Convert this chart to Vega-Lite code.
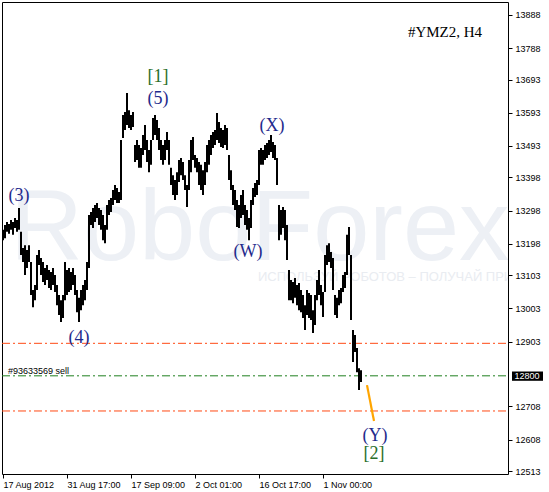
{
  "$schema": "https://vega.github.io/schema/vega-lite/v6.json",
  "width": 506,
  "height": 472,
  "autosize": "none",
  "padding": {"left": 2, "top": 2, "right": 41, "bottom": 18},
  "background": "white",
  "config": {
    "view": {"stroke": "black", "strokeWidth": 1},
    "font": "Liberation Sans"
  },
  "datasets": {
    "bars": [
      {"bar":1,"p":13209,"p2":13240},{"bar":3,"p":13215,"p2":13255},{"bar":5,"p":13234,"p2":13264},{"bar":7,"p":13228,"p2":13258},
      {"bar":9,"p":13240,"p2":13270},{"bar":11,"p":13225,"p2":13264},{"bar":13,"p":13246,"p2":13276},{"bar":15,"p":13234,"p2":13270},
      {"bar":17,"p":13240,"p2":13306},{"bar":19,"p":13164,"p2":13234},{"bar":21,"p":13143,"p2":13185},{"bar":23,"p":13104,"p2":13194},
      {"bar":25,"p":13125,"p2":13179},{"bar":27,"p":13143,"p2":13194},{"bar":29,"p":13044,"p2":13143},{"bar":31,"p":13007,"p2":13059},
      {"bar":33,"p":13028,"p2":13074},{"bar":35,"p":13059,"p2":13164},{"bar":37,"p":13134,"p2":13179},{"bar":39,"p":13104,"p2":13155},
      {"bar":41,"p":13083,"p2":13143},{"bar":43,"p":13074,"p2":13125},{"bar":45,"p":13089,"p2":13134},{"bar":47,"p":13065,"p2":13119},
      {"bar":49,"p":13059,"p2":13113},{"bar":51,"p":13074,"p2":13125},{"bar":53,"p":13053,"p2":13104},{"bar":55,"p":13013,"p2":13074},
      {"bar":57,"p":12983,"p2":13044},{"bar":59,"p":12962,"p2":13028},{"bar":61,"p":12974,"p2":13044},{"bar":63,"p":13028,"p2":13143},
      {"bar":65,"p":13044,"p2":13119},{"bar":67,"p":13053,"p2":13125},{"bar":69,"p":13059,"p2":13113},{"bar":71,"p":13074,"p2":13125},
      {"bar":73,"p":13044,"p2":13104},{"bar":75,"p":12992,"p2":13059},{"bar":77,"p":12962,"p2":13035},{"bar":79,"p":12998,"p2":13059},
      {"bar":81,"p":13013,"p2":13074},{"bar":83,"p":13028,"p2":13089},{"bar":85,"p":13059,"p2":13143},{"bar":87,"p":13125,"p2":13285},
      {"bar":89,"p":13255,"p2":13294},{"bar":91,"p":13246,"p2":13306},{"bar":93,"p":13264,"p2":13315},{"bar":95,"p":13276,"p2":13321},
      {"bar":97,"p":13255,"p2":13306},{"bar":99,"p":13240,"p2":13300},{"bar":101,"p":13209,"p2":13285},{"bar":103,"p":13200,"p2":13255},
      {"bar":105,"p":13240,"p2":13315},{"bar":107,"p":13285,"p2":13330},{"bar":109,"p":13294,"p2":13336},{"bar":111,"p":13315,"p2":13360},
      {"bar":113,"p":13330,"p2":13375},{"bar":115,"p":13321,"p2":13366},{"bar":117,"p":13321,"p2":13354},{"bar":119,"p":13330,"p2":13511},
      {"bar":121,"p":13517,"p2":13586},{"bar":123,"p":13541,"p2":13595},{"bar":125,"p":13556,"p2":13653},{"bar":127,"p":13547,"p2":13601},
      {"bar":129,"p":13541,"p2":13586},{"bar":131,"p":13550,"p2":13595},{"bar":133,"p":13445,"p2":13496},{"bar":135,"p":13451,"p2":13511},
      {"bar":137,"p":13427,"p2":13496},{"bar":139,"p":13427,"p2":13487},{"bar":141,"p":13466,"p2":13526},{"bar":143,"p":13481,"p2":13556},
      {"bar":145,"p":13445,"p2":13511},{"bar":147,"p":13414,"p2":13481},{"bar":149,"p":13436,"p2":13511},{"bar":151,"p":13511,"p2":13577},
      {"bar":153,"p":13526,"p2":13586},{"bar":155,"p":13511,"p2":13571},{"bar":157,"p":13481,"p2":13547},{"bar":159,"p":13451,"p2":13511},
      {"bar":161,"p":13436,"p2":13496},{"bar":163,"p":13451,"p2":13511},{"bar":165,"p":13481,"p2":13535},{"bar":167,"p":13436,"p2":13511},
      {"bar":169,"p":13375,"p2":13427},{"bar":171,"p":13345,"p2":13405},{"bar":173,"p":13330,"p2":13390},{"bar":175,"p":13345,"p2":13414},
      {"bar":177,"p":13384,"p2":13451},{"bar":179,"p":13405,"p2":13457},{"bar":181,"p":13390,"p2":13445},{"bar":183,"p":13360,"p2":13405},
      {"bar":185,"p":13309,"p2":13375},{"bar":187,"p":13360,"p2":13451},{"bar":189,"p":13414,"p2":13511},{"bar":191,"p":13451,"p2":13520},
      {"bar":193,"p":13427,"p2":13466},{"bar":195,"p":13414,"p2":13457},{"bar":197,"p":13375,"p2":13445},{"bar":199,"p":13360,"p2":13436},
      {"bar":201,"p":13345,"p2":13420},{"bar":203,"p":13375,"p2":13445},{"bar":205,"p":13414,"p2":13496},{"bar":207,"p":13436,"p2":13511},
      {"bar":209,"p":13466,"p2":13526},{"bar":211,"p":13487,"p2":13535},{"bar":213,"p":13496,"p2":13541},{"bar":215,"p":13511,"p2":13592},
      {"bar":217,"p":13502,"p2":13565},{"bar":219,"p":13490,"p2":13547},{"bar":221,"p":13487,"p2":13541},{"bar":223,"p":13496,"p2":13556},
      {"bar":225,"p":13481,"p2":13547},{"bar":227,"p":13390,"p2":13466},{"bar":229,"p":13360,"p2":13420},{"bar":231,"p":13315,"p2":13375},
      {"bar":233,"p":13300,"p2":13360},{"bar":235,"p":13249,"p2":13330},{"bar":237,"p":13246,"p2":13315},{"bar":239,"p":13276,"p2":13345},
      {"bar":241,"p":13285,"p2":13360},{"bar":243,"p":13255,"p2":13315},{"bar":245,"p":13240,"p2":13300},{"bar":247,"p":13209,"p2":13276},
      {"bar":249,"p":13246,"p2":13330},{"bar":251,"p":13315,"p2":13366},{"bar":253,"p":13339,"p2":13381},{"bar":255,"p":13345,"p2":13390},
      {"bar":257,"p":13375,"p2":13481},{"bar":259,"p":13436,"p2":13487},{"bar":261,"p":13436,"p2":13481},{"bar":263,"p":13451,"p2":13496},
      {"bar":265,"p":13457,"p2":13502},{"bar":267,"p":13466,"p2":13511},{"bar":269,"p":13475,"p2":13526},{"bar":271,"p":13457,"p2":13505},
      {"bar":273,"p":13451,"p2":13496},{"bar":275,"p":13375,"p2":13457},{"bar":277,"p":13209,"p2":13315},{"bar":279,"p":13225,"p2":13300},
      {"bar":281,"p":13246,"p2":13309},{"bar":283,"p":13209,"p2":13300},{"bar":285,"p":13149,"p2":13255},{"bar":287,"p":13028,"p2":13119},
      {"bar":289,"p":13028,"p2":13089},{"bar":291,"p":13019,"p2":13083},{"bar":293,"p":13035,"p2":13095},{"bar":295,"p":13013,"p2":13074},
      {"bar":297,"p":12998,"p2":13080},{"bar":299,"p":12992,"p2":13059},{"bar":301,"p":12974,"p2":13044},{"bar":303,"p":12938,"p2":13013},
      {"bar":305,"p":12983,"p2":13059},{"bar":307,"p":12974,"p2":13050},{"bar":309,"p":12968,"p2":13044},{"bar":311,"p":12929,"p2":12998},
      {"bar":313,"p":12953,"p2":13044},{"bar":315,"p":13028,"p2":13089},{"bar":317,"p":13044,"p2":13119},{"bar":319,"p":13013,"p2":13074},
      {"bar":321,"p":12977,"p2":13053},{"bar":323,"p":13053,"p2":13164},{"bar":325,"p":13134,"p2":13194},{"bar":327,"p":13143,"p2":13200},
      {"bar":329,"p":13125,"p2":13173},{"bar":331,"p":13059,"p2":13155},{"bar":333,"p":12983,"p2":13044},{"bar":335,"p":12974,"p2":13035},
      {"bar":337,"p":13013,"p2":13059},{"bar":339,"p":13019,"p2":13065},{"bar":341,"p":13053,"p2":13104},{"bar":343,"p":13065,"p2":13113},
      {"bar":345,"p":13104,"p2":13225},{"bar":347,"p":13164,"p2":13249},{"bar":349,"p":12968,"p2":13164},{"bar":351,"p":12842,"p2":12938},
      {"bar":353,"p":12872,"p2":12923},{"bar":355,"p":12811,"p2":12884},{"bar":357,"p":12757,"p2":12823},{"bar":359,"p":12781,"p2":12817}
    ],
    "levels": [
      {"bar":0,"bar2":506,"p":12898,"k":"stop"},
      {"bar":0,"bar2":506,"p":12800,"k":"order"},
      {"bar":0,"bar2":506,"p":12694,"k":"stop"}
    ],
    "forecast": [
      {"bar":365,"p":12772},
      {"bar":372,"p":12664}
    ],
    "waves": [
      {"t":"(3)","bar":17,"p":13342,"k":"minor"},
      {"t":"[1]","bar":156,"p":13701,"k":"major"},
      {"t":"(5)","bar":156,"p":13635,"k":"minor"},
      {"t":"(X)","bar":270,"p":13553,"k":"minor"},
      {"t":"(W)","bar":246,"p":13173,"k":"minor"},
      {"t":"(4)","bar":77,"p":12914,"k":"minor"},
      {"t":"(Y)","bar":373,"p":12618,"k":"minor"},
      {"t":"[2]","bar":372,"p":12564,"k":"major"}
    ],
    "watermark": [{"t":"RoboForex","bar":8,"p":13149}],
    "slogan": [{"t":"ИСПОЛЬЗУЙ РОБОТОВ – ПОЛУЧАЙ ПРИБЫЛЬ","bar":256,"p":13098}],
    "title": [{"t":"#YMZ2, H4","bar":443,"p":13836}],
    "order": [{"t":"#93633569 sell","bar":6,"p":12805}],
    "pricebox": [{"bar":510,"bar2":541,"p":12785,"p2":12813,"t":"12800","mid":525,"pm":12800}]
  },
  "encoding": {
    "x": {
      "field": "bar", "type": "quantitative",
      "scale": {"domain": [0, 506], "nice": false, "zero": false},
      "axis": {
        "title": null, "grid": false, "domain": false,
        "values": [1, 65, 129, 193, 257, 321],
        "labelExpr": "datum.value == 1 ? '17 Aug 2012' : datum.value == 65 ? '31 Aug 17:00' : datum.value == 129 ? '17 Sep 09:00' : datum.value == 193 ? '2 Oct 01:00' : datum.value == 257 ? '16 Oct 17:00' : '1 Nov 00:00'",
        "labelAlign": "left", "labelDx": 1, "labelFont": "Liberation Sans", "labelFontSize": 9,
        "labelColor": "black", "tickColor": "black", "tickSize": 4, "labelPadding": 2,
        "labelFlush": false, "labelOverlap": false, "labelBound": false
      }
    },
    "y": {
      "field": "p", "type": "quantitative",
      "scale": {"domain": [12504, 13927], "nice": false, "zero": false},
      "axis": {
        "orient": "right", "title": null, "grid": false, "domain": false, "format": "d",
        "values": [13888, 13788, 13693, 13593, 13493, 13398, 13298, 13198, 13103, 13003, 12903, 12708, 12608, 12513],
        "labelFont": "Liberation Sans", "labelFontSize": 9, "labelColor": "black",
        "tickColor": "black", "tickSize": 4, "labelPadding": 3, "labelOverlap": false, "labelFlush": false
      }
    }
  },
  "layer": [
    {
      "data": {"name": "watermark"},
      "mark": {"type": "text", "align": "left", "baseline": "alphabetic", "font": "Liberation Sans", "fontSize": 101, "color": "#edf0f5", "clip": true},
      "encoding": {"text": {"field": "t"}}
    },
    {
      "data": {"name": "slogan"},
      "mark": {"type": "text", "align": "left", "baseline": "middle", "font": "Liberation Sans", "fontSize": 13, "color": "#e9ecf1", "clip": true},
      "encoding": {"text": {"field": "t"}}
    },
    {
      "data": {"name": "levels"},
      "mark": {"type": "rule", "strokeWidth": 1, "strokeDash": [8, 3, 2, 3]},
      "encoding": {
        "x2": {"field": "bar2"},
        "color": {"field": "k", "type": "nominal", "scale": {"domain": ["stop", "order"], "range": ["#ff4a14", "#1f7f1f"]}, "legend": null}
      }
    },
    {
      "data": {"name": "bars"},
      "mark": {"type": "rule", "color": "black", "strokeWidth": 2},
      "encoding": {"y2": {"field": "p2"}}
    },
    {
      "data": {"name": "forecast"},
      "mark": {"type": "line", "color": "#ffa500", "strokeWidth": 2.2},
      "encoding": {}
    },
    {
      "data": {"name": "waves"},
      "mark": {"type": "text", "align": "center", "baseline": "middle", "font": "Liberation Serif", "fontSize": 18},
      "encoding": {
        "text": {"field": "t"},
        "color": {"field": "k", "type": "nominal", "scale": {"domain": ["minor", "major"], "range": ["#1f2a8c", "#2a6e2a"]}, "legend": null}
      }
    },
    {
      "data": {"name": "title"},
      "mark": {"type": "text", "align": "center", "baseline": "middle", "font": "Liberation Serif", "fontSize": 15, "color": "black"},
      "encoding": {"text": {"field": "t"}}
    },
    {
      "data": {"name": "order"},
      "mark": {"type": "text", "align": "left", "baseline": "alphabetic", "font": "Liberation Sans", "fontSize": 9, "color": "black"},
      "encoding": {"text": {"field": "t"}}
    },
    {
      "data": {"name": "pricebox"},
      "mark": {"type": "rect", "color": "black", "clip": false},
      "encoding": {"x2": {"field": "bar2"}, "y2": {"field": "p2"}}
    },
    {
      "data": {"name": "pricebox"},
      "mark": {"type": "text", "align": "center", "baseline": "middle", "font": "Liberation Sans", "fontSize": 9, "color": "white", "clip": false},
      "encoding": {"x": {"field": "mid", "type": "quantitative"}, "y": {"field": "pm", "type": "quantitative"}, "text": {"field": "t"}}
    }
  ],
  "resolve": {"scale": {"color": "independent"}}
}
